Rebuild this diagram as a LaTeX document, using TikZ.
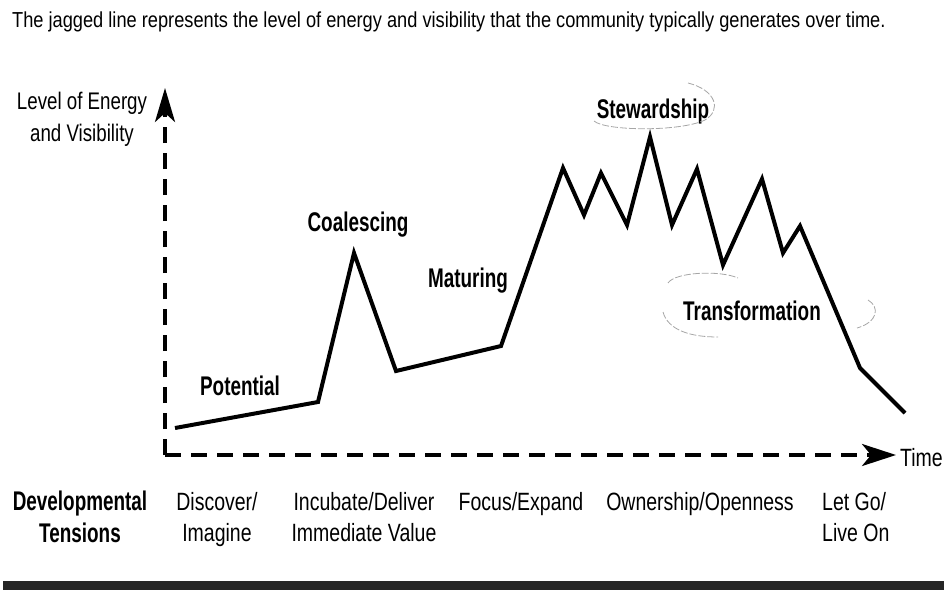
\documentclass[tikz,border=0pt]{standalone}
\usepackage{fontspec}
\setmainfont{Liberation Sans}[FakeStretch=0.78]
\newfontfamily\boldcond{Liberation Sans}[FakeStretch=0.7]
\newfontfamily\titlefont{Liberation Sans}[FakeStretch=0.84]
\usetikzlibrary{arrows.meta}
\begin{document}
\begin{tikzpicture}[x=1pt,y=-1pt,
  lbl/.style={font=\boldcond\bfseries\fontsize{27}{32}\selectfont, inner sep=0pt, align=center},
  txt/.style={font=\fontsize{25}{31}\selectfont, inner sep=0pt, align=center},
  axisline/.style={line width=3.5pt, dash pattern=on 16pt off 10pt},
  curve/.style={line width=4pt, line join=miter, miter limit=6},
  faint/.style={black!35, line width=0.8pt, dash pattern=on 7pt off 2pt}]
\useasboundingbox (0,0) rectangle (944,595);
% title
\node[font=\titlefont\fontsize{21.7}{26}\selectfont, inner sep=0pt, anchor=base west] (title) at (12,27)
  {The jagged line represents the level of energy and visibility that the community typically generates over time.};
% axes
\coordinate (corner) at (165,455);
\coordinate (ytop) at (165,88);
\coordinate (xend) at (896,455);
\draw[axisline, -{Stealth[length=34pt,width=20pt,inset=9pt]}] (corner) -- (ytop);
\draw[axisline, -{Stealth[length=34pt,width=22pt,inset=9pt]}] (corner) -- (xend);
\node[txt, anchor=west] (time) at (900,458) {Time};
\node[txt, font=\fontsize{24}{32}\selectfont] (ylab) at (82,119) {Level of Energy\\and Visibility};
% jagged line
\coordinate (p0) at (175,428);
\coordinate (p1) at (318,402);
\coordinate (p2) at (354,253);
\coordinate (p3) at (396,371);
\coordinate (p4) at (501,346);
\coordinate (p5) at (563,168);
\coordinate (p6) at (584,215);
\coordinate (p7) at (601,173);
\coordinate (p8) at (627,225);
\coordinate (p9) at (650,137);
\coordinate (p10) at (672,225);
\coordinate (p11) at (697,169);
\coordinate (p12) at (723,265);
\coordinate (p13) at (762,179);
\coordinate (p14) at (783,253);
\coordinate (p15) at (800,226);
\coordinate (p16) at (860,368);
\coordinate (p17) at (905,413);
\draw[curve] (p0) -- (p1) -- (p2) -- (p3) -- (p4) -- (p5) -- (p6) -- (p7) -- (p8) -- (p9)
  -- (p10) -- (p11) -- (p12) -- (p13) -- (p14) -- (p15) -- (p16) -- (p17);
% stage labels
\node[lbl] (potential) at (240,386) {Potential};
\node[lbl] (coalescing) at (358,225) {Coalescing};
\node[lbl] (maturing) at (468,281) {Maturing};
\node[lbl] (stewardship) at (653,112) {Stewardship};
\node[lbl] (transformation) at (752,311) {Transformation};
% faint hand-drawn rings
\draw[faint] (594,121) .. controls (605,131) and (680,132) .. (705,120)
  .. controls (722,110) and (716,90) .. (688,83);
\draw[faint] (668,283) .. controls (675,272) and (720,270) .. (738,278);
\draw[faint] (663,312) .. controls (668,330) and (690,337) .. (718,337);
\draw[faint] (868,300) .. controls (880,307) and (878,322) .. (857,328);
% tensions
\node[lbl, anchor=base] (dev) at (80,542) {Developmental\\Tensions};
\node[txt, anchor=base] (discover) at (217,541) {Discover/\\Imagine};
\node[txt, anchor=base] (incubate) at (364,541) {Incubate/Deliver\\Immediate Value};
\node[txt, anchor=base] (focus) at (521,510) {Focus/Expand};
\node[txt, anchor=base] (owner) at (700,510) {Ownership/Openness};
\node[txt, anchor=base west, align=left] (letgo) at (822,541) {Let Go/\\Live On};
% bottom rule
\fill[black!85] (3,581) rectangle (944,590);
\end{tikzpicture}
\end{document}
